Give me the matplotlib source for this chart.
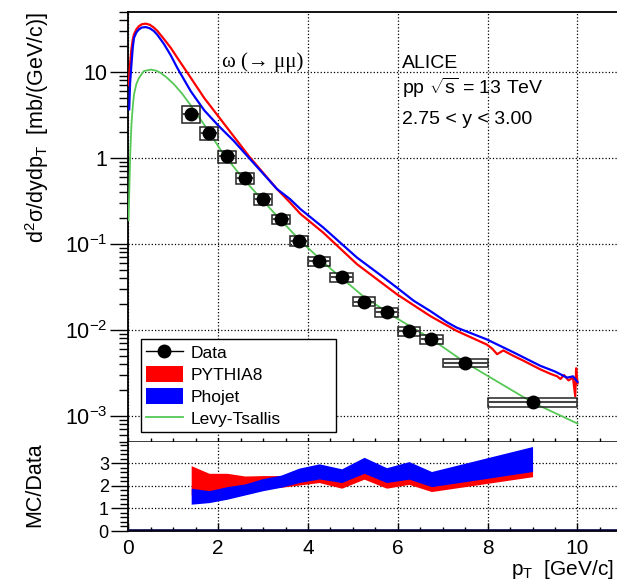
import numpy as np
import matplotlib
matplotlib.use("Agg")
import matplotlib.pyplot as plt
from matplotlib.ticker import FixedLocator, FixedFormatter, MultipleLocator, LogLocator, NullFormatter
from matplotlib.lines import Line2D
from matplotlib.patches import Patch

plt.rcParams['font.family'] = ['Liberation Sans', 'DejaVu Sans']
plt.rcParams['mathtext.fontset'] = 'custom'
plt.rcParams['mathtext.rm'] = 'Liberation Sans'
plt.rcParams['mathtext.it'] = 'Liberation Sans:italic'

# data points
pt = [1.4, 1.8, 2.2, 2.6, 3.0, 3.4, 3.8, 4.25, 4.75, 5.25, 5.75, 6.25, 6.75, 7.5, 9.0]
pt_lo = [1.2, 1.6, 2.0, 2.4, 2.8, 3.2, 3.6, 4.0, 4.5, 5.0, 5.5, 6.0, 6.5, 7.0, 8.0]
pt_hi = [1.6, 2.0, 2.4, 2.8, 3.2, 3.6, 4.0, 4.5, 5.0, 5.5, 6.0, 6.5, 7.0, 8.0, 10.0]
xsec = [3.27, 1.95, 1.05, 0.585, 0.333, 0.195, 0.109, 0.064, 0.041, 0.0214, 0.0163, 0.0098, 0.0079, 0.0042, 0.00145]
sys_rel = [0.22, 0.17, 0.16, 0.14, 0.14, 0.13, 0.13, 0.12, 0.12, 0.12, 0.12, 0.12, 0.12, 0.11, 0.11]
stat_rel = [0.04, 0.03, 0.03, 0.03, 0.03, 0.03, 0.03, 0.04, 0.04, 0.05, 0.05, 0.06, 0.06, 0.07, 0.09]

# PYTHIA8 curve
py_pt = [0.01, 0.02, 0.04, 0.07, 0.1, 0.127, 0.18, 0.24, 0.3, 0.39, 0.48, 0.57, 0.65, 0.8, 0.95, 1.09,
         1.39, 1.69, 2.19, 2.7, 3.31, 3.6, 3.83,
         4.34, 5.09, 5.98, 6.72, 7.31, 7.98, 8.1, 8.21, 8.35, 8.43, 8.58, 8.8, 9.17, 9.4, 9.55, 9.62,
         9.7, 9.8, 9.9, 9.95, 9.97, 10.0]
py_val = [7.0, 9.0, 12.5, 18.5, 24.0, 27.5, 31.5, 34.3, 36.0, 36.6, 35.5, 32.9, 30.0, 24.0, 19.0, 14.7,
          8.6, 5.0, 2.29, 1.03, 0.437, 0.305, 0.225,
          0.136, 0.0585, 0.0261, 0.0146, 0.0098, 0.0068, 0.0061, 0.00525, 0.0058, 0.0055, 0.0050, 0.0044,
          0.0035, 0.0031, 0.0029, 0.0027, 0.0030, 0.0026, 0.0028, 0.0017, 0.0036, 0.0024]

# Phojet curve
ph_pt = [0.02, 0.04, 0.07, 0.1, 0.127, 0.18, 0.24, 0.3, 0.39, 0.48, 0.57, 0.65, 0.8, 0.95, 1.09,
         1.39, 1.69, 2.0, 2.34, 3.31, 3.6, 3.83, 4.34,
         5.09, 5.61, 5.98, 6.35, 6.72, 7.1, 7.31, 7.98, 8.58, 9.17, 9.5, 9.77, 9.9, 10.0]
ph_val = [3.7, 7.5, 12.3, 19.5, 25.0, 29.0, 31.5, 33.0, 33.4, 32.3, 30.0, 27.0, 21.0, 15.5, 11.2,
          6.0, 3.6, 2.4, 1.6, 0.437, 0.334, 0.256, 0.156,
          0.0698, 0.0438, 0.0312, 0.022, 0.0167, 0.0123, 0.0107, 0.0078, 0.0055, 0.00385, 0.0033, 0.0028,
          0.0029, 0.0025]

# Levy-Tsallis fit
lt_pt = [0.005, 0.03, 0.045, 0.07, 0.1, 0.127, 0.18, 0.24, 0.35, 0.5, 0.62, 0.72, 0.85, 1.02, 1.2, 1.39,
         1.7, 2.1, 2.56, 3.2, 3.83, 4.5, 5.24, 6.0, 6.73, 7.5, 8.0, 9.0, 10.0]
lt_val = [0.19, 0.6, 1.2, 2.45, 4.0, 5.5, 7.3, 8.6, 10.3, 10.7, 10.4, 9.8, 8.7, 7.2, 5.6, 4.1,
          2.4, 1.15, 0.573, 0.245, 0.109, 0.052, 0.0245, 0.0135, 0.0080, 0.0042, 0.00294, 0.00144, 0.00082]

# MC/Data ratio bands
py_ratio_lo = [1.6, 1.6, 1.7, 1.8, 1.9, 1.94, 2.04, 2.15, 1.9, 2.3, 1.9, 2.07, 1.75, 1.97, 2.41]
py_ratio_hi = [2.9, 2.56, 2.56, 2.44, 2.46, 2.46, 2.5, 2.6, 2.5, 2.8, 2.5, 2.6, 2.3, 2.5, 2.9]
ph_ratio_lo = [1.19, 1.26, 1.41, 1.6, 1.79, 1.94, 2.15, 2.31, 2.15, 2.56, 2.15, 2.3, 1.97, 2.19, 2.64]
ph_ratio_hi = [1.9, 1.79, 1.97, 2.09, 2.33, 2.48, 2.79, 2.98, 2.76, 3.27, 2.81, 3.08, 2.64, 3.01, 3.75]

ytick_vals = [1e-3, 1e-2, 1e-1, 1, 10]
ytick_labels = ['10$^{-3}$', '10$^{-2}$', '10$^{-1}$', '1', '10']
xtick_vals = [0, 2, 4, 6, 8, 10]
rtick_vals = [0, 1, 2, 3]

pt = np.array(pt)
xsec = np.array(xsec)
pt_lo = np.array(pt_lo)
pt_hi = np.array(pt_hi)
sys_rel = np.array(sys_rel)
stat_rel = np.array(stat_rel)

fig = plt.figure(figsize=(6.17, 5.88), dpi=100)
L = 128.3 / 617
W = 494.1 / 617
ax = fig.add_axes([L, 1 - 442 / 588, W, 430 / 588])
axr = fig.add_axes([L, 1 - 531 / 588, W, 89 / 588])

# ---- top panel
ax.set_yscale('log')
ax.set_xlim(0, 11)
ax.set_ylim(5e-4, 50)
ax.grid(True, which='major', ls=':', color='k', lw=0.9)
ax.xaxis.set_major_locator(MultipleLocator(2))
ax.xaxis.set_minor_locator(MultipleLocator(0.5))
ax.yaxis.set_major_locator(FixedLocator(ytick_vals))
ax.yaxis.set_major_formatter(FixedFormatter(ytick_labels))
ax.yaxis.set_minor_locator(LogLocator(base=10, subs=np.arange(2, 10)))
ax.yaxis.set_minor_formatter(NullFormatter())
ax.tick_params(axis='y', which='major', direction='out', length=13, width=1, labelsize=15.5, pad=2)
ax.tick_params(axis='y', which='minor', direction='out', length=6.5, width=1)
ax.tick_params(axis='x', which='both', direction='in', labelbottom=False, length=3, width=1)
for s in ['left', 'top', 'bottom']:
    ax.spines[s].set_linewidth(1.3)
ax.spines['bottom'].set_linewidth(1.8)

ax.plot(py_pt, py_val, color='#ff0000', lw=1.6, zorder=3)
ax.plot(ph_pt, ph_val, color='#0000ff', lw=1.6, zorder=3)
ax.plot(lt_pt, lt_val, color='#55c855', lw=1.3, zorder=3)

# systematic boxes
ax.bar(pt, xsec * 2 * sys_rel, width=pt_hi - pt_lo, bottom=xsec * (1 - sys_rel),
       fill=False, edgecolor='#222222', lw=1.1, zorder=4)
ax.errorbar(pt, xsec, xerr=[pt - pt_lo, pt_hi - pt], yerr=xsec * stat_rel, fmt='o',
            color='k', ms=9, elinewidth=1.5, ecolor='#444444', capsize=0, zorder=5)

ax.text((222 - 128.3) / 494.1, 1 - (67 - 12) / 430, 'ω (→ μμ)', transform=ax.transAxes,
        fontsize=15, family=['Liberation Serif', 'DejaVu Serif'], va='baseline', ha='left')
tx = (401.5 - 128.3) / 494.1
ax.text(tx, 1 - (68.5 - 12) / 430, 'ALICE', transform=ax.transAxes, fontsize=14, va='baseline')
ax.text(tx, 1 - (94 - 12) / 430, r'pp $\sqrt{\rm s}$ = 13 TeV', transform=ax.transAxes, fontsize=14, va='baseline')
ax.text(tx, 1 - (124 - 12) / 430, '2.75 < y < 3.00', transform=ax.transAxes, fontsize=14, va='baseline')

# legend
handles = [Line2D([], [], color='k', marker='o', ms=9, lw=1),
           Patch(facecolor='#ff0000', edgecolor='none'),
           Patch(facecolor='#0000ff', edgecolor='none'),
           Line2D([], [], color='#55c855', lw=1.3)]
leg = ax.legend(handles, ['Data', 'PYTHIA8', 'Phojet', 'Levy-Tsallis'], loc='lower left',
                bbox_to_anchor=((141 - 128.3) / 494.1, (442 - 432) / 430, (336 - 141) / 494.1, 0.2),
                mode='expand', borderaxespad=0,
                fontsize=12.5, frameon=True, fancybox=False, framealpha=1, edgecolor='k',
                handlelength=2.1, handleheight=1.0, labelspacing=0.3, borderpad=0.3,
                handletextpad=0.45)
leg.get_frame().set_linewidth(1.0)
leg.set_zorder(10)

# ---- ratio panel
axr.set_xlim(0, 11)
axr.set_ylim(0, 3.95)
axr.fill_between(pt, py_ratio_lo, py_ratio_hi, color='#ff0000', lw=0, zorder=2)
axr.fill_between(pt, ph_ratio_lo, ph_ratio_hi, color='#0000ff', lw=0, zorder=3)
axr.axhline(0, color='#000033', lw=2.6, zorder=4)
axr.xaxis.set_major_locator(FixedLocator(xtick_vals))
axr.xaxis.set_minor_locator(MultipleLocator(0.5))
axr.yaxis.set_major_locator(FixedLocator(rtick_vals))
axr.yaxis.set_minor_locator(MultipleLocator(0.2))
axr.grid(True, which='major', ls=':', color='k', lw=0.9)
axr.tick_params(axis='y', which='major', direction='out', length=12, width=1, labelsize=13, pad=2)
axr.tick_params(axis='y', which='minor', direction='out', length=6, width=1)
axr.tick_params(axis='x', which='major', direction='in', length=6, width=1, labelsize=15, pad=6)
axr.tick_params(axis='x', which='minor', direction='in', length=3, width=1)
axr.spines['top'].set_visible(False)
axr.spines['left'].set_linewidth(1.3)
axr.spines['bottom'].set_linewidth(1.3)

# axis titles
fig.text(37 / 617, 1 - 12 / 588, r'd$^{2}$σ/dydp$_{\rm T}$  [mb/(GeV/c)]', rotation=90,
         ha='center', va='top', fontsize=15.5)
fig.text(35 / 617, 1 - 485 / 588, 'MC/Data', rotation=90, ha='center', va='center', fontsize=15.5)
fig.text(614 / 617, 1 - 575 / 588, r'p$_{\rm T}$  [GeV/c]', ha='right', va='baseline', fontsize=15)

fig.savefig('out.png', dpi=100)
